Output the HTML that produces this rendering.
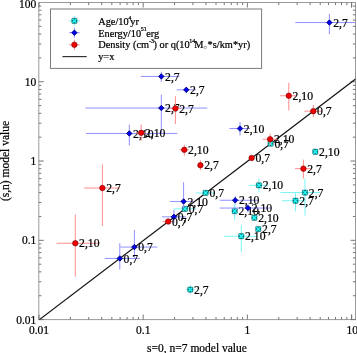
<!DOCTYPE html>
<html><head><meta charset="utf-8"><style>html,body{margin:0;padding:0;background:#fff;width:357px;height:353px;overflow:hidden}svg{display:block;will-change:transform}</style></head>
<body><svg width="357" height="353" viewBox="0 0 357 353">
<rect width="357" height="353" fill="#fff"/>
<defs><clipPath id="c"><rect x="38.8" y="2.5" width="316.7" height="317.1"/></clipPath></defs>
<rect x="38.8" y="2.5" width="316.7" height="317.1" fill="none" stroke="#9a9a9a" stroke-width="1"/>
<path d="M39.00 319.6v-5M39.00 2.5v5M70.37 319.6v-2.6M70.37 2.5v2.6M88.72 319.6v-2.6M88.72 2.5v2.6M101.73 319.6v-2.6M101.73 2.5v2.6M111.83 319.6v-2.6M111.83 2.5v2.6M120.08 319.6v-2.6M120.08 2.5v2.6M127.06 319.6v-2.6M127.06 2.5v2.6M133.10 319.6v-2.6M133.10 2.5v2.6M138.43 319.6v-2.6M138.43 2.5v2.6M143.20 319.6v-5M143.20 2.5v5M174.57 319.6v-2.6M174.57 2.5v2.6M192.92 319.6v-2.6M192.92 2.5v2.6M205.93 319.6v-2.6M205.93 2.5v2.6M216.03 319.6v-2.6M216.03 2.5v2.6M224.28 319.6v-2.6M224.28 2.5v2.6M231.26 319.6v-2.6M231.26 2.5v2.6M237.30 319.6v-2.6M237.30 2.5v2.6M242.63 319.6v-2.6M242.63 2.5v2.6M247.40 319.6v-5M247.40 2.5v5M278.77 319.6v-2.6M278.77 2.5v2.6M297.12 319.6v-2.6M297.12 2.5v2.6M310.13 319.6v-2.6M310.13 2.5v2.6M320.23 319.6v-2.6M320.23 2.5v2.6M328.48 319.6v-2.6M328.48 2.5v2.6M335.46 319.6v-2.6M335.46 2.5v2.6M341.50 319.6v-2.6M341.50 2.5v2.6M346.83 319.6v-2.6M346.83 2.5v2.6M351.60 319.6v-5M351.60 2.5v5M351.60 319.6v-5M351.60 2.5v5M38.8 319.60h5M355.5 319.60h-5M38.8 295.73h2.6M355.5 295.73h-2.6M38.8 281.77h2.6M355.5 281.77h-2.6M38.8 271.87h2.6M355.5 271.87h-2.6M38.8 264.19h2.6M355.5 264.19h-2.6M38.8 257.91h2.6M355.5 257.91h-2.6M38.8 252.60h2.6M355.5 252.60h-2.6M38.8 248.00h2.6M355.5 248.00h-2.6M38.8 243.95h2.6M355.5 243.95h-2.6M38.8 240.32h5M355.5 240.32h-5M38.8 216.45h2.6M355.5 216.45h-2.6M38.8 202.49h2.6M355.5 202.49h-2.6M38.8 192.59h2.6M355.5 192.59h-2.6M38.8 184.91h2.6M355.5 184.91h-2.6M38.8 178.63h2.6M355.5 178.63h-2.6M38.8 173.32h2.6M355.5 173.32h-2.6M38.8 168.72h2.6M355.5 168.72h-2.6M38.8 164.67h2.6M355.5 164.67h-2.6M38.8 161.04h5M355.5 161.04h-5M38.8 137.17h2.6M355.5 137.17h-2.6M38.8 123.21h2.6M355.5 123.21h-2.6M38.8 113.31h2.6M355.5 113.31h-2.6M38.8 105.63h2.6M355.5 105.63h-2.6M38.8 99.35h2.6M355.5 99.35h-2.6M38.8 94.04h2.6M355.5 94.04h-2.6M38.8 89.44h2.6M355.5 89.44h-2.6M38.8 85.39h2.6M355.5 85.39h-2.6M38.8 81.76h5M355.5 81.76h-5M38.8 57.89h2.6M355.5 57.89h-2.6M38.8 43.93h2.6M355.5 43.93h-2.6M38.8 34.03h2.6M355.5 34.03h-2.6M38.8 26.35h2.6M355.5 26.35h-2.6M38.8 20.07h2.6M355.5 20.07h-2.6M38.8 14.76h2.6M355.5 14.76h-2.6M38.8 10.16h2.6M355.5 10.16h-2.6M38.8 6.11h2.6M355.5 6.11h-2.6" stroke="#777" stroke-width="1" fill="none"/>
<text x="36.3" y="7.80" font-family="Liberation Serif" stroke="#000" stroke-width="0.22" font-size="11.5" text-anchor="end">100</text>
<text x="36.3" y="85.66" font-family="Liberation Serif" stroke="#000" stroke-width="0.22" font-size="11.5" text-anchor="end">10</text>
<text x="36.3" y="164.94" font-family="Liberation Serif" stroke="#000" stroke-width="0.22" font-size="11.5" text-anchor="end">1</text>
<text x="36.3" y="244.22" font-family="Liberation Serif" stroke="#000" stroke-width="0.22" font-size="11.5" text-anchor="end">0.1</text>
<text x="36.3" y="323.50" font-family="Liberation Serif" stroke="#000" stroke-width="0.22" font-size="11.5" text-anchor="end">0.01</text>
<text x="39.00" y="334" font-family="Liberation Serif" stroke="#000" stroke-width="0.22" font-size="11.5" text-anchor="middle">0.01</text>
<text x="143.20" y="334" font-family="Liberation Serif" stroke="#000" stroke-width="0.22" font-size="11.5" text-anchor="middle">0.1</text>
<text x="247.40" y="334" font-family="Liberation Serif" stroke="#000" stroke-width="0.22" font-size="11.5" text-anchor="middle">1</text>
<text x="352.20" y="334" font-family="Liberation Serif" stroke="#000" stroke-width="0.22" font-size="11.5" text-anchor="middle">10</text>
<text x="197" y="351.5" font-family="Liberation Serif" stroke="#000" stroke-width="0.22" font-size="11.5" text-anchor="middle">s=0, n=7 model value</text>
<text transform="translate(9.3 161) rotate(-90)" x="0" y="0" font-family="Liberation Serif" stroke="#000" stroke-width="0.22" font-size="11.5" text-anchor="middle">(s,n) model value</text>
<g clip-path="url(#c)"><line x1="39.0" y1="319.90000000000003" x2="355.91311779348706" y2="78.77838792065596" stroke="#111" stroke-width="1.2"/></g>
<g clip-path="url(#c)"><line x1="249.1" y1="185.35" x2="268" y2="185.35" stroke="#78f6f6" stroke-width="1"/><line x1="258.9" y1="178.65" x2="258.9" y2="192.65" stroke="#78f6f6" stroke-width="1"/><line x1="280.4" y1="192.55" x2="320" y2="192.55" stroke="#78f6f6" stroke-width="1"/><line x1="305.0" y1="178.65" x2="305.0" y2="215.55" stroke="#78f6f6" stroke-width="1"/><line x1="282.1" y1="200.75" x2="305" y2="200.75" stroke="#78f6f6" stroke-width="1"/><line x1="295.5" y1="192.05" x2="295.5" y2="211.35" stroke="#78f6f6" stroke-width="1"/><line x1="195.9" y1="192.95" x2="214" y2="192.95" stroke="#78f6f6" stroke-width="1"/><line x1="173.5" y1="208.85" x2="196" y2="208.85" stroke="#78f6f6" stroke-width="1"/><line x1="234.7" y1="204.25" x2="234.7" y2="220.25" stroke="#78f6f6" stroke-width="1"/><line x1="224.2" y1="236.25" x2="258" y2="236.25" stroke="#78f6f6" stroke-width="1"/><line x1="241.3" y1="225.25" x2="241.3" y2="252.25" stroke="#78f6f6" stroke-width="1"/><line x1="185.8" y1="289.55" x2="194.8" y2="289.55" stroke="#78f6f6" stroke-width="1"/><line x1="190.3" y1="285.05" x2="190.3" y2="294.05" stroke="#78f6f6" stroke-width="1"/></g>
<rect x="267.95" y="140.90" width="5.30" height="5.30" rx="0.8" fill="#0b7f7f" stroke="#055" stroke-width="0.4"/><path d="M268.65 141.60L272.55 145.50M272.55 141.60L268.65 145.50" stroke="#2ff" stroke-width="1.25"/><rect x="312.65" y="149.10" width="5.30" height="5.30" rx="0.8" fill="#0b7f7f" stroke="#055" stroke-width="0.4"/><path d="M313.35 149.80L317.25 153.70M317.25 149.80L313.35 153.70" stroke="#2ff" stroke-width="1.25"/><rect x="256.25" y="182.70" width="5.30" height="5.30" rx="0.8" fill="#0b7f7f" stroke="#055" stroke-width="0.4"/><path d="M256.95 183.40L260.85 187.30M260.85 183.40L256.95 187.30" stroke="#2ff" stroke-width="1.25"/><rect x="302.35" y="189.90" width="5.30" height="5.30" rx="0.8" fill="#0b7f7f" stroke="#055" stroke-width="0.4"/><path d="M303.05 190.60L306.95 194.50M306.95 190.60L303.05 194.50" stroke="#2ff" stroke-width="1.25"/><rect x="292.85" y="198.10" width="5.30" height="5.30" rx="0.8" fill="#0b7f7f" stroke="#055" stroke-width="0.4"/><path d="M293.55 198.80L297.45 202.70M297.45 198.80L293.55 202.70" stroke="#2ff" stroke-width="1.25"/><rect x="202.95" y="190.30" width="5.30" height="5.30" rx="0.8" fill="#0b7f7f" stroke="#055" stroke-width="0.4"/><path d="M203.65 191.00L207.55 194.90M207.55 191.00L203.65 194.90" stroke="#2ff" stroke-width="1.25"/><rect x="182.25" y="206.20" width="5.30" height="5.30" rx="0.8" fill="#0b7f7f" stroke="#055" stroke-width="0.4"/><path d="M182.95 206.90L186.85 210.80M186.85 206.90L182.95 210.80" stroke="#2ff" stroke-width="1.25"/><rect x="232.05" y="208.40" width="5.30" height="5.30" rx="0.8" fill="#0b7f7f" stroke="#055" stroke-width="0.4"/><path d="M232.75 209.10L236.65 213.00M236.65 209.10L232.75 213.00" stroke="#2ff" stroke-width="1.25"/><rect x="251.75" y="215.10" width="5.30" height="5.30" rx="0.8" fill="#0b7f7f" stroke="#055" stroke-width="0.4"/><path d="M252.45 215.80L256.35 219.70M256.35 215.80L252.45 219.70" stroke="#2ff" stroke-width="1.25"/><rect x="255.65" y="226.40" width="5.30" height="5.30" rx="0.8" fill="#0b7f7f" stroke="#055" stroke-width="0.4"/><path d="M256.35 227.10L260.25 231.00M260.25 227.10L256.35 231.00" stroke="#2ff" stroke-width="1.25"/><rect x="238.65" y="233.60" width="5.30" height="5.30" rx="0.8" fill="#0b7f7f" stroke="#055" stroke-width="0.4"/><path d="M239.35 234.30L243.25 238.20M243.25 234.30L239.35 238.20" stroke="#2ff" stroke-width="1.25"/><rect x="187.65" y="286.90" width="5.30" height="5.30" rx="0.8" fill="#0b7f7f" stroke="#055" stroke-width="0.4"/><path d="M188.35 287.60L192.25 291.50M192.25 287.60L188.35 291.50" stroke="#2ff" stroke-width="1.25"/>
<text x="274.40" y="147.65" font-family="Liberation Serif" stroke="#000" stroke-width="0.22" font-size="11.7">0,7</text><text x="319.10" y="155.85" font-family="Liberation Serif" stroke="#000" stroke-width="0.22" font-size="11.7">2,10</text><text x="262.70" y="189.45" font-family="Liberation Serif" stroke="#000" stroke-width="0.22" font-size="11.7">2,10</text><text x="308.80" y="196.65" font-family="Liberation Serif" stroke="#000" stroke-width="0.22" font-size="11.7">2,7</text><text x="299.30" y="204.85" font-family="Liberation Serif" stroke="#000" stroke-width="0.22" font-size="11.7">2,7</text><text x="209.40" y="197.05" font-family="Liberation Serif" stroke="#000" stroke-width="0.22" font-size="11.7">0,7</text><text x="188.70" y="212.95" font-family="Liberation Serif" stroke="#000" stroke-width="0.22" font-size="11.7">0,7</text><text x="238.50" y="215.15" font-family="Liberation Serif" stroke="#000" stroke-width="0.22" font-size="11.7">2,10</text><text x="258.20" y="221.85" font-family="Liberation Serif" stroke="#000" stroke-width="0.22" font-size="11.7">2,10</text><text x="262.10" y="233.15" font-family="Liberation Serif" stroke="#000" stroke-width="0.22" font-size="11.7">2,7</text><text x="245.10" y="240.35" font-family="Liberation Serif" stroke="#000" stroke-width="0.22" font-size="11.7">2,10</text><text x="194.10" y="293.65" font-family="Liberation Serif" stroke="#000" stroke-width="0.22" font-size="11.7">2,7</text>
<g clip-path="url(#c)"><line x1="295.3" y1="22.55" x2="356" y2="22.55" stroke="#9090ff" stroke-width="1"/><line x1="329.4" y1="13.85" x2="329.4" y2="34.15" stroke="#9090ff" stroke-width="1"/><line x1="140.7" y1="76.45" x2="179.5" y2="76.45" stroke="#9090ff" stroke-width="1"/><line x1="161.3" y1="71.75" x2="161.3" y2="81.75" stroke="#9090ff" stroke-width="1"/><line x1="176.7" y1="89.85" x2="196" y2="89.85" stroke="#9090ff" stroke-width="1"/><line x1="186.3" y1="86.75" x2="186.3" y2="92.75" stroke="#9090ff" stroke-width="1"/><line x1="85.4" y1="108.05" x2="207.3" y2="108.05" stroke="#9090ff" stroke-width="1"/><line x1="161.3" y1="94.55" x2="161.3" y2="133.25" stroke="#9090ff" stroke-width="1"/><line x1="85.9" y1="133.45" x2="177.3" y2="133.45" stroke="#9090ff" stroke-width="1"/><line x1="129.3" y1="124.55" x2="129.3" y2="145.55" stroke="#9090ff" stroke-width="1"/><line x1="229.5" y1="128.55" x2="250" y2="128.55" stroke="#9090ff" stroke-width="1"/><line x1="240.0" y1="121.95" x2="240.0" y2="135.45" stroke="#9090ff" stroke-width="1"/><line x1="170" y1="201.45" x2="194" y2="201.45" stroke="#9090ff" stroke-width="1"/><line x1="183.6" y1="182.25" x2="183.6" y2="208.25" stroke="#9090ff" stroke-width="1"/><line x1="219.7" y1="200.25" x2="258" y2="200.25" stroke="#9090ff" stroke-width="1"/><line x1="235.2" y1="196.25" x2="235.2" y2="204.25" stroke="#9090ff" stroke-width="1"/><line x1="219.7" y1="208.05" x2="270.5" y2="208.05" stroke="#9090ff" stroke-width="1"/><line x1="247.9" y1="204.25" x2="247.9" y2="212.25" stroke="#9090ff" stroke-width="1"/><line x1="162" y1="216.85" x2="186" y2="216.85" stroke="#9090ff" stroke-width="1"/><line x1="173.9" y1="209.85" x2="173.9" y2="223.15" stroke="#9090ff" stroke-width="1"/><line x1="120.2" y1="247.05" x2="157.3" y2="247.05" stroke="#9090ff" stroke-width="1"/><line x1="134.4" y1="229.95" x2="134.4" y2="257.75" stroke="#9090ff" stroke-width="1"/><line x1="104.8" y1="258.45" x2="139.8" y2="258.45" stroke="#9090ff" stroke-width="1"/><line x1="119.8" y1="243.15" x2="119.8" y2="269.55" stroke="#9090ff" stroke-width="1"/></g>
<path d="M329.4 19.8L332.15 22.55L329.4 25.3L326.65 22.55Z" fill="#0000f0" stroke="#000070" stroke-width="0.8" stroke-linejoin="round"/><path d="M161.3 73.7L164.05 76.45L161.3 79.2L158.55 76.45Z" fill="#0000f0" stroke="#000070" stroke-width="0.8" stroke-linejoin="round"/><path d="M186.3 87.1L189.05 89.85L186.3 92.6L183.55 89.85Z" fill="#0000f0" stroke="#000070" stroke-width="0.8" stroke-linejoin="round"/><path d="M161.3 105.3L164.05 108.05L161.3 110.8L158.55 108.05Z" fill="#0000f0" stroke="#000070" stroke-width="0.8" stroke-linejoin="round"/><path d="M129.3 130.7L132.05 133.45L129.3 136.2L126.55000000000001 133.45Z" fill="#0000f0" stroke="#000070" stroke-width="0.8" stroke-linejoin="round"/><path d="M240.0 125.80000000000001L242.75 128.55L240.0 131.3L237.25 128.55Z" fill="#0000f0" stroke="#000070" stroke-width="0.8" stroke-linejoin="round"/><path d="M183.6 198.7L186.35 201.45L183.6 204.2L180.85 201.45Z" fill="#0000f0" stroke="#000070" stroke-width="0.8" stroke-linejoin="round"/><path d="M235.2 197.5L237.95 200.25L235.2 203.0L232.45 200.25Z" fill="#0000f0" stroke="#000070" stroke-width="0.8" stroke-linejoin="round"/><path d="M247.9 205.3L250.65 208.05L247.9 210.8L245.15 208.05Z" fill="#0000f0" stroke="#000070" stroke-width="0.8" stroke-linejoin="round"/><path d="M173.9 214.1L176.65 216.85L173.9 219.6L171.15 216.85Z" fill="#0000f0" stroke="#000070" stroke-width="0.8" stroke-linejoin="round"/><path d="M134.4 244.3L137.15 247.05L134.4 249.8L131.65 247.05Z" fill="#0000f0" stroke="#000070" stroke-width="0.8" stroke-linejoin="round"/><path d="M119.8 255.7L122.55 258.45L119.8 261.2L117.05 258.45Z" fill="#0000f0" stroke="#000070" stroke-width="0.8" stroke-linejoin="round"/>
<text x="333.20" y="26.65" font-family="Liberation Serif" stroke="#000" stroke-width="0.22" font-size="11.7">2,7</text><text x="165.10" y="80.55" font-family="Liberation Serif" stroke="#000" stroke-width="0.22" font-size="11.7">2,7</text><text x="190.10" y="93.95" font-family="Liberation Serif" stroke="#000" stroke-width="0.22" font-size="11.7">2,7</text><text x="165.10" y="112.15" font-family="Liberation Serif" stroke="#000" stroke-width="0.22" font-size="11.7">2,7</text><text x="133.10" y="137.55" font-family="Liberation Serif" stroke="#000" stroke-width="0.22" font-size="11.7">2,10</text><text x="243.80" y="132.65" font-family="Liberation Serif" stroke="#000" stroke-width="0.22" font-size="11.7">2,10</text><text x="187.40" y="205.55" font-family="Liberation Serif" stroke="#000" stroke-width="0.22" font-size="11.7">2,10</text><text x="239.00" y="204.35" font-family="Liberation Serif" stroke="#000" stroke-width="0.22" font-size="11.7">2,10</text><text x="251.70" y="212.15" font-family="Liberation Serif" stroke="#000" stroke-width="0.22" font-size="11.7">2,10</text><text x="177.70" y="220.95" font-family="Liberation Serif" stroke="#000" stroke-width="0.22" font-size="11.7">0,7</text><text x="138.20" y="251.15" font-family="Liberation Serif" stroke="#000" stroke-width="0.22" font-size="11.7">0,7</text><text x="123.60" y="262.55" font-family="Liberation Serif" stroke="#000" stroke-width="0.22" font-size="11.7">0,7</text>
<g clip-path="url(#c)"><line x1="280.1" y1="95.75" x2="297" y2="95.75" stroke="#ff8c8c" stroke-width="1"/><line x1="288.8" y1="82.85" x2="288.8" y2="110.55" stroke="#ff8c8c" stroke-width="1"/><line x1="170" y1="108.45" x2="181" y2="108.45" stroke="#ff8c8c" stroke-width="1"/><line x1="175.4" y1="96.25" x2="175.4" y2="124.05" stroke="#ff8c8c" stroke-width="1"/><line x1="136" y1="132.85" x2="146" y2="132.85" stroke="#ff8c8c" stroke-width="1"/><line x1="141.2" y1="124.55" x2="141.2" y2="140.65" stroke="#ff8c8c" stroke-width="1"/><line x1="304.3" y1="111.15" x2="322" y2="111.15" stroke="#ff8c8c" stroke-width="1"/><line x1="313.3" y1="104.95" x2="313.3" y2="117.05" stroke="#ff8c8c" stroke-width="1"/><line x1="262.7" y1="139.25" x2="277" y2="139.25" stroke="#ff8c8c" stroke-width="1"/><line x1="270.1" y1="133.65" x2="270.1" y2="145.25" stroke="#ff8c8c" stroke-width="1"/><line x1="179.5" y1="149.85" x2="189" y2="149.85" stroke="#ff8c8c" stroke-width="1"/><line x1="184.3" y1="144.75" x2="184.3" y2="155.75" stroke="#ff8c8c" stroke-width="1"/><line x1="200.4" y1="160.25" x2="200.4" y2="170.25" stroke="#ff8c8c" stroke-width="1"/><line x1="295" y1="168.65" x2="312" y2="168.65" stroke="#ff8c8c" stroke-width="1"/><line x1="303.4" y1="159.65" x2="303.4" y2="178.45" stroke="#ff8c8c" stroke-width="1"/><line x1="84.2" y1="188.05" x2="120" y2="188.05" stroke="#ff8c8c" stroke-width="1"/><line x1="102.4" y1="164.45" x2="102.4" y2="226.05" stroke="#ff8c8c" stroke-width="1"/><line x1="162.4" y1="221.55" x2="174" y2="221.55" stroke="#ff8c8c" stroke-width="1"/><line x1="56.6" y1="243.25" x2="99" y2="243.25" stroke="#ff8c8c" stroke-width="1"/><line x1="75.3" y1="214.55" x2="75.3" y2="276.65" stroke="#ff8c8c" stroke-width="1"/></g>
<circle cx="288.8" cy="95.75" r="2.75" fill="#f00000" stroke="#700000" stroke-width="0.6"/><circle cx="175.4" cy="108.45" r="2.75" fill="#f00000" stroke="#700000" stroke-width="0.6"/><circle cx="141.2" cy="132.85" r="2.75" fill="#f00000" stroke="#700000" stroke-width="0.6"/><circle cx="313.3" cy="111.15" r="2.75" fill="#f00000" stroke="#700000" stroke-width="0.6"/><circle cx="270.1" cy="139.25" r="2.75" fill="#f00000" stroke="#700000" stroke-width="0.6"/><circle cx="251.6" cy="158.05" r="2.75" fill="#f00000" stroke="#700000" stroke-width="0.6"/><circle cx="184.3" cy="149.85" r="2.75" fill="#f00000" stroke="#700000" stroke-width="0.6"/><circle cx="200.4" cy="165.25" r="2.75" fill="#f00000" stroke="#700000" stroke-width="0.6"/><circle cx="303.4" cy="168.65" r="2.75" fill="#f00000" stroke="#700000" stroke-width="0.6"/><circle cx="102.4" cy="188.05" r="2.75" fill="#f00000" stroke="#700000" stroke-width="0.6"/><circle cx="168.2" cy="221.55" r="2.75" fill="#f00000" stroke="#700000" stroke-width="0.6"/><circle cx="75.3" cy="243.25" r="2.75" fill="#f00000" stroke="#700000" stroke-width="0.6"/>
<text x="292.60" y="99.85" font-family="Liberation Serif" stroke="#000" stroke-width="0.22" font-size="11.7">2,10</text><text x="179.20" y="112.55" font-family="Liberation Serif" stroke="#000" stroke-width="0.22" font-size="11.7">2,7</text><text x="145.00" y="136.95" font-family="Liberation Serif" stroke="#000" stroke-width="0.22" font-size="11.7">2,10</text><text x="317.10" y="115.25" font-family="Liberation Serif" stroke="#000" stroke-width="0.22" font-size="11.7">0,7</text><text x="273.90" y="143.35" font-family="Liberation Serif" stroke="#000" stroke-width="0.22" font-size="11.7">2,10</text><text x="255.40" y="162.15" font-family="Liberation Serif" stroke="#000" stroke-width="0.22" font-size="11.7">0,7</text><text x="188.10" y="153.95" font-family="Liberation Serif" stroke="#000" stroke-width="0.22" font-size="11.7">2,10</text><text x="204.20" y="169.35" font-family="Liberation Serif" stroke="#000" stroke-width="0.22" font-size="11.7">2,7</text><text x="307.20" y="172.75" font-family="Liberation Serif" stroke="#000" stroke-width="0.22" font-size="11.7">2,7</text><text x="106.20" y="192.15" font-family="Liberation Serif" stroke="#000" stroke-width="0.22" font-size="11.7">2,7</text><text x="172.00" y="225.65" font-family="Liberation Serif" stroke="#000" stroke-width="0.22" font-size="11.7">0,7</text><text x="79.10" y="247.35" font-family="Liberation Serif" stroke="#000" stroke-width="0.22" font-size="11.7">2,10</text>
<rect x="50.5" y="9.0" width="211.1" height="59.4" fill="#fff" stroke="#7a7a7a" stroke-width="1.0"/>
<path d="M69.10000000000001 20.8H79.7M74.4 15.8V25.8" stroke="#78f6f6" stroke-width="1"/>
<rect x="71.75" y="18.15" width="5.30" height="5.30" rx="0.8" fill="#0b7f7f" stroke="#055" stroke-width="0.4"/><path d="M72.45 18.85L76.35 22.75M76.35 18.85L72.45 22.75" stroke="#2ff" stroke-width="1.25"/>
<path d="M69.10000000000001 32.7H79.7M74.4 27.700000000000003V37.7" stroke="#9090ff" stroke-width="1"/>
<path d="M74.4 29.950000000000003L77.15 32.7L74.4 35.45L71.65 32.7Z" fill="#0000f0" stroke="#000070" stroke-width="0.8" stroke-linejoin="round"/>
<path d="M69.10000000000001 44.8H79.7M74.4 39.8V49.8" stroke="#ff8c8c" stroke-width="1"/>
<circle cx="74.4" cy="44.8" r="2.75" fill="#f00000" stroke="#700000" stroke-width="0.6"/>
<line x1="62.4" y1="56.6" x2="86.7" y2="56.6" stroke="#333" stroke-width="1.2"/>
<text x="98.2" y="25" font-family="Liberation Serif" stroke="#000" stroke-width="0.22" font-size="10.35">Age/10</text><text x="128.6" y="19.6" font-family="Liberation Serif" stroke="#000" stroke-width="0.22" font-size="5.6">4</text><text x="130.3" y="25" font-family="Liberation Serif" stroke="#000" stroke-width="0.22" font-size="10.35">yr</text>
<text x="98.2" y="36.6" font-family="Liberation Serif" stroke="#000" stroke-width="0.22" font-size="10.35">Energy/10</text><text x="140.7" y="31.4" font-family="Liberation Serif" stroke="#000" stroke-width="0.22" font-size="6.0">51</text><text x="146.2" y="36.6" font-family="Liberation Serif" stroke="#000" stroke-width="0.22" font-size="10.35">erg</text>
<text x="98.2" y="48.3" font-family="Liberation Serif" stroke="#000" stroke-width="0.22" font-size="10.35">Density (cm</text><text x="149.0" y="43.2" font-family="Liberation Serif" stroke="#000" stroke-width="0.22" font-size="6.0">-</text><text x="150.9" y="43.2" font-family="Liberation Serif" stroke="#000" stroke-width="0.22" font-size="6.0">3</text><text x="153.5" y="48.3" font-family="Liberation Serif" stroke="#000" stroke-width="0.22" font-size="10.35">) or q(10</text><text x="189.3" y="43.2" font-family="Liberation Serif" stroke="#000" stroke-width="0.22" font-size="6.0">14</text><text x="194.3" y="48.3" font-family="Liberation Serif" stroke="#000" stroke-width="0.22" font-size="10.35">M</text><text x="207.6" y="48.3" font-family="Liberation Serif" stroke="#000" stroke-width="0.22" font-size="10.35">*s/km*yr)</text>
<circle cx="205.2" cy="47.3" r="1.25" fill="none" stroke="#666" stroke-width="0.6"/>
<text x="98.2" y="60" font-family="Liberation Serif" stroke="#000" stroke-width="0.22" font-size="10.35">y=x</text>
</svg></body></html>
